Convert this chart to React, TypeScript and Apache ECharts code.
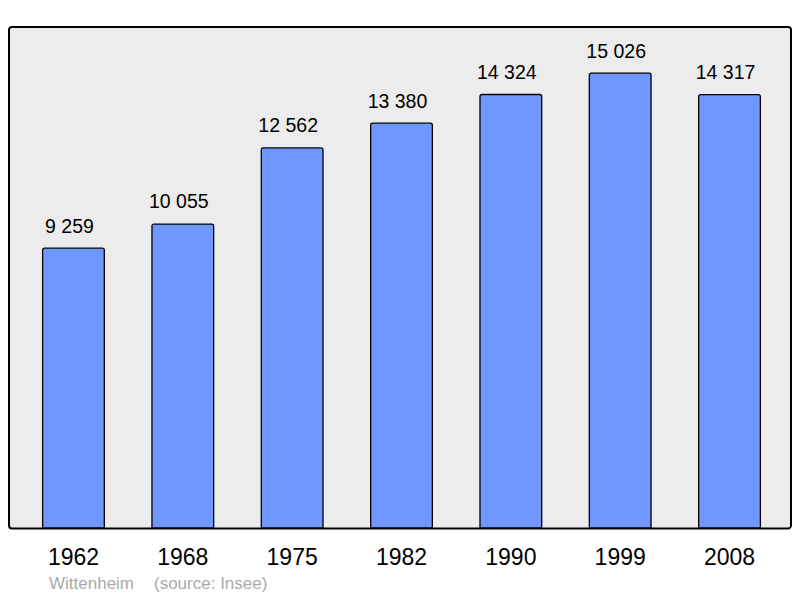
import React, { useEffect, useRef } from "react";
import * as echarts from "echarts";

const years = ["1962", "1968", "1975", "1982", "1990", "1999", "2008"];
const population = [9259, 10055, 12562, 13380, 14324, 15026, 14317];
const commune = "Wittenheim";
const source = "(source: Insee)";

const fmt = (v: number) => {
  const s = String(v);
  return s.replace(/\B(?=(\d{3})+(?!\d))/g, " ");
};

export default function App() {
  const ref = useRef<HTMLDivElement>(null);
  useEffect(() => {
    if (!ref.current) return;
    const chart = echarts.init(ref.current, null, { renderer: "svg" });
    chart.setOption({
      animation: false,
      backgroundColor: "#ffffff",
      textStyle: { fontFamily: "Liberation Sans, Arial, sans-serif" },
      grid: { left: 18.8, width: 765.4, top: 43, height: 485.5 },
      xAxis: {
        type: "category",
        data: years,
        axisLine: { show: false },
        axisTick: { show: false },
        axisLabel: { color: "#000", fontSize: 23, margin: 17, fontFamily: "Liberation Sans, Arial, sans-serif" },
      },
      yAxis: { type: "value", min: 0, max: 16000, show: false, splitLine: { show: false } },
      graphic: [
        {
          type: "rect",
          z: -10,
          shape: { x: 9, y: 27, width: 782, height: 501.5, r: 3 },
          style: { fill: "#ececec", stroke: "#000", lineWidth: 2 },
        },
        {
          type: "text",
          left: 49,
          top: 575,
          style: { text: commune, fill: "#aaaaaa", fontSize: 17, fontFamily: "Liberation Sans, Arial, sans-serif" },
        },
        {
          type: "text",
          left: 154,
          top: 575,
          style: { text: source, fill: "#aaaaaa", fontSize: 17, fontFamily: "Liberation Sans, Arial, sans-serif" },
        },
      ],
      series: [
        {
          type: "bar",
          data: population,
          barWidth: 63,
          itemStyle: { color: "#7096ff", borderColor: "#000", borderWidth: 1.3, borderRadius: [2, 2, 0, 0] },
          label: {
            show: true,
            position: "top",
            distance: 12,
            offset: [-4, 0],
            color: "#000",
            fontSize: 19.5,
            fontFamily: "Liberation Sans, Arial, sans-serif",
            formatter: (p: any) => fmt(p.value),
          },
        },
      ],
    });
    return () => chart.dispose();
  }, []);
  return <div ref={ref} style={{ width: 800, height: 598, position: "absolute", left: 0, top: 0 }} />;
}
